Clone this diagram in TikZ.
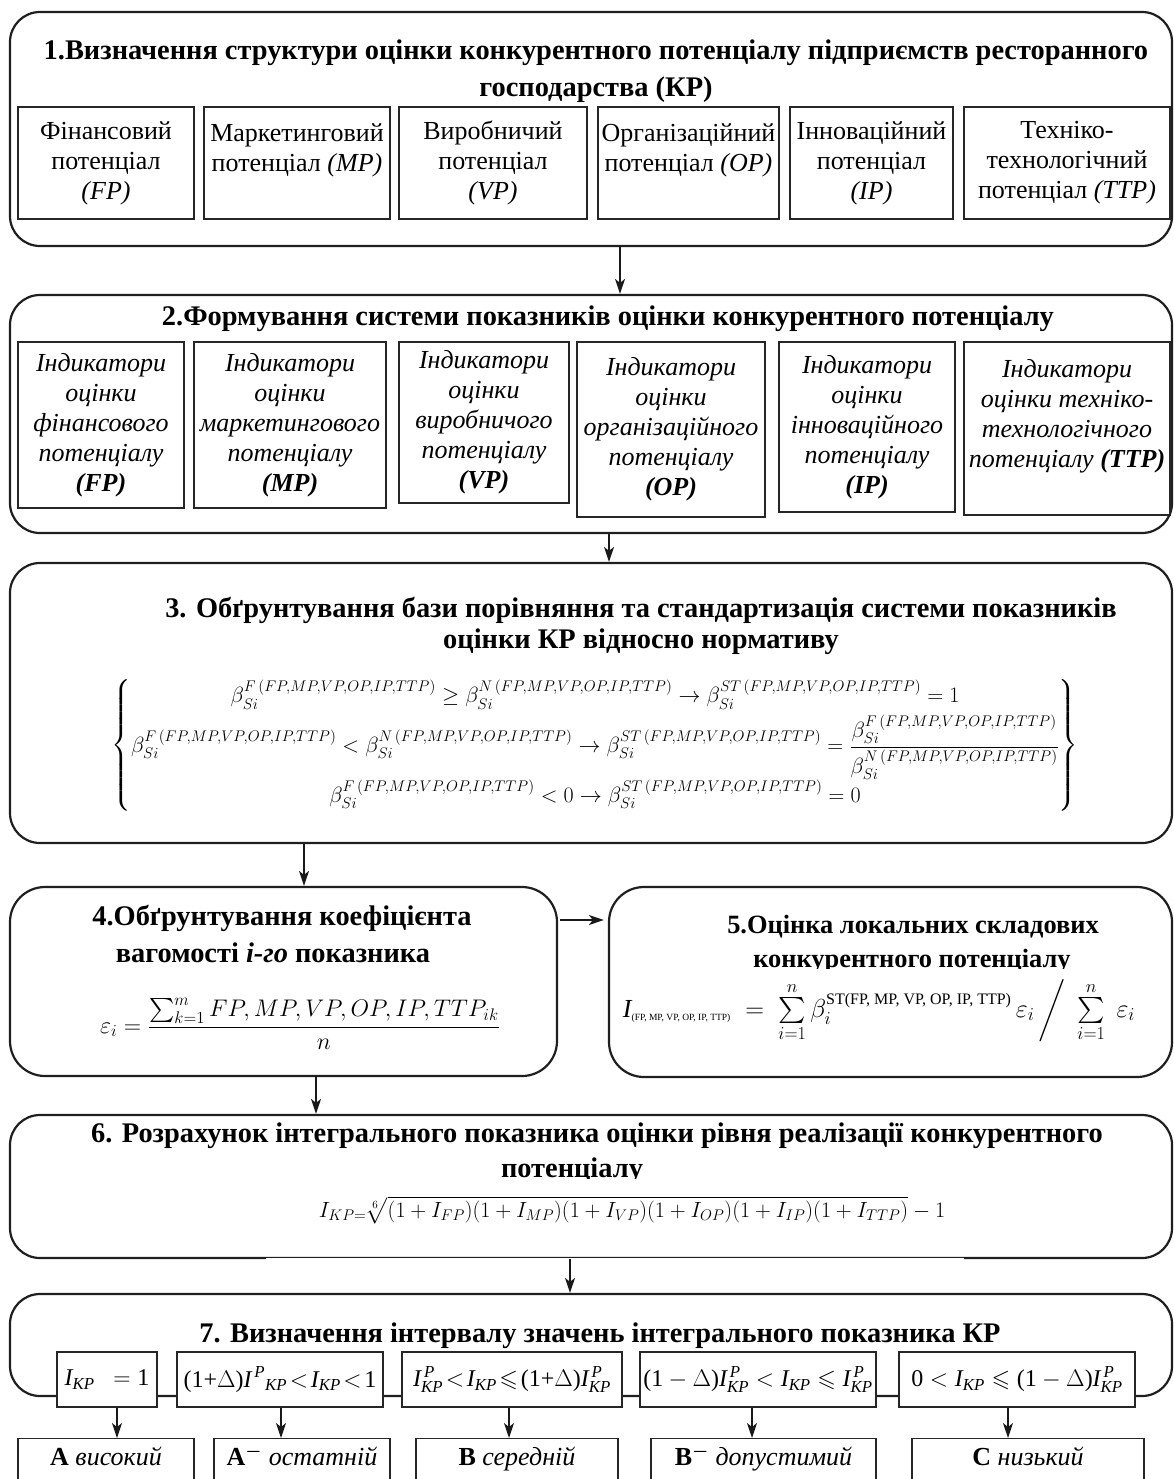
\RequirePackage{fix-cm}
\documentclass[tikz,border=0pt]{standalone}
\usepackage{amsmath,amssymb}
\usepackage{fontspec}
\setmainfont{Liberation Serif}
\usetikzlibrary{arrows.meta}
\newcommand{\bsi}[1]{\beta_{Si}^{#1\,(FP,MP,VP,OP,IP,TTP)}}
\newcommand{\myIK}{\textit{I}_{\textit{KP}}}
\newcommand{\myIPK}{\textit{I}^{\,\textit{P}}_{\textit{KP}}}
\tikzset{
  frame/.style={draw=black!88, line width=2.2pt, rounded corners=30pt, minimum width=1162pt},
  ibox/.style={draw=black!85, line width=1.2pt, fill=white, inner sep=0pt, align=center},
  bodyf/.style={font=\fontsize{26}{30}\selectfont},
  itf/.style={font=\itshape\fontsize{26}{30}\selectfont},
  arr/.style={draw=black!90, line width=1.5pt, -{Stealth[length=15pt,width=10pt,inset=4pt]}},
  ttl/.style={font=\bfseries\fontsize{28.4}{32}\selectfont, anchor=base, inner sep=0pt},
  ttls/.style={font=\bfseries\fontsize{26.4}{30}\selectfont, anchor=base, inner sep=0pt},
  mth/.style={inner sep=0pt},
  ifml/.style={ibox, font=\fontsize{24}{28}\selectfont, minimum height=55pt},
  rbox/.style={draw=black!85, line width=1.2pt, anchor=north, inner xsep=0pt, inner ysep=8pt,
     text height=19pt, text depth=25pt, font=\fontsize{26}{30}\selectfont},
}
\begin{document}
\begin{tikzpicture}[x=1pt,y=-1pt]
\useasboundingbox (0,0) rectangle (1174,1479);
% ---------- step 1
\node[frame, minimum height=234pt] (s1) at (591,129) {};
\node[ttl] (t1a) at (596,60) {1.Визначення структури оцінки конкурентного потенціалу підприємств ресторанного};
\node[ttl] (t1b) at (596,97) {господарства (КР)};
\node[ibox,bodyf,minimum width=176pt,minimum height=112pt] (p1) at (106,163) {Фінансовий\\потенціал\\\textit{(FP)}};
\node[ibox,bodyf,minimum width=186pt,minimum height=112pt] (p2) at (297,163) {Маркетинговий\\потенціал \textit{(MP)}\\\mbox{}};
\node[ibox,bodyf,minimum width=188pt,minimum height=112pt] (p3) at (493,163) {Виробничий\\потенціал\\\textit{(VP)}};
\node[ibox,bodyf,minimum width=181pt,minimum height=112pt] (p4) at (688.5,163) {Організаційний\\потенціал \textit{(OP)}\\\mbox{}};
\node[ibox,bodyf,minimum width=163pt,minimum height=112pt] (p5) at (871.5,163) {Інноваційний\\потенціал\\\textit{(IP)}};
\node[ibox,bodyf,minimum width=206pt,minimum height=112pt] (p6) at (1067,163) {Техніко-\\технологічний\\потенціал \textit{(TTP)}};
% ---------- step 2
\node[frame, minimum height=238pt] (s2) at (591,414) {};
\node[ttl] (t2) at (608,325) {2.Формування системи показників оцінки конкурентного потенціалу};
\node[ibox,itf,minimum width=166pt,minimum height=166pt] (q1) at (101,425) {Індикатори\\оцінки\\фінансового\\потенціалу\\\textbf{(FP)}};
\node[ibox,itf,minimum width=192pt,minimum height=166pt] (q2) at (290,425) {Індикатори\\оцінки\\маркетингового\\потенціалу\\\textbf{(MP)}};
\node[ibox,itf,minimum width=170pt,minimum height=161pt] (q3) at (484,422.5) {Індикатори\\оцінки\\виробничого\\потенціалу\\\textbf{(VP)}};
\node[ibox,itf,minimum width=188pt,minimum height=175pt] (q4) at (671,429.5) {Індикатори\\оцінки\\організаційного\\потенціалу\\\textbf{(OP)}};
\node[ibox,itf,minimum width=176pt,minimum height=170pt] (q5) at (867,427) {Індикатори\\оцінки\\інноваційного\\потенціалу\\\textbf{(IP)}};
\node[ibox,itf,minimum width=206pt,minimum height=173pt] (q6) at (1067,428.5) {Індикатори\\оцінки техніко-\\технологічного\\потенціалу \textbf{(TTP)}\\\mbox{}};
% ---------- step 3
\node[frame, minimum height=280pt] (s3) at (591,703) {};
\node[ttl] (t3a) at (641,617) {3. Обґрунтування бази порівняння та стандартизація системи показників};
\node[ttl] (t3b) at (641,648) {оцінки КР відносно нормативу};
\node[mth, font=\fontsize{22}{26}\selectfont] (e3) at (595,745) {$\left\{\begin{array}{@{}c@{}}
\bsi{F}\geq\bsi{N}\rightarrow\bsi{ST}=1\\[4pt]
\bsi{F}<\bsi{N}\rightarrow\bsi{ST}=\dfrac{\bsi{F}}{\bsi{N}}\\[6pt]
\bsi{F}<0\rightarrow\bsi{ST}=0
\end{array}\right\}$};
% ---------- step 4
\node[frame, rounded corners=35pt, minimum width=547pt, minimum height=189pt] (s4) at (283.5,981.5) {};
\node[ttl] (t4a) at (282,925) {4.Обґрунтування коефіцієнта};
\node[ttl] (t4b) at (273,962) {вагомості \textit{і-го} показника};
\node[mth, anchor=base, font=\fontsize{24}{28}\selectfont] (e4) at (300,1033) {$\varepsilon_i=\dfrac{\sum\nolimits_{k=1}^{m}FP,MP,VP,OP,IP,TTP_{ik}}{n}$};
% ---------- step 5
\node[frame, rounded corners=35pt, minimum width=563pt, minimum height=190pt] (s5) at (890.5,982) {};
\node[ttls] (t5a) at (913,933) {5.Оцінка локальних складових};
\node[ttls] (t5b) at (912,967) {конкурентного потенціалу};
\fill[white] (735,968.5) rectangle (1095,979);
\node[mth, anchor=base, font=\fontsize{26}{30}\selectfont] (e5) at (879,1017) {$\textit{I}_{\mbox{\fontsize{9.5}{10}\selectfont (FP, MP, VP, OP, IP, TTP)}}\;=\;\sum\limits_{i=1}^{n}\beta_i^{\mbox{\fontsize{16}{16}\selectfont ST(FP, MP, VP, OP, IP, TTP)}}\,\varepsilon_i\,\bigg/\;\sum\limits_{i=1}^{n}\;\varepsilon_i$};
% ---------- step 6
\node[frame, minimum height=143pt] (s6) at (591,1186.5) {};
\fill[white] (266,1258) rectangle (964,1260.5);
\node[ttl] (t6a) at (597,1142) {6. Розрахунок інтегрального показника оцінки рівня реалізації конкурентного};
\node[ttl] (t6b) at (572,1177) {потенціалу};
\fill[white] (470,1178.5) rectangle (680,1190);
\node[mth, anchor=base, font=\fontsize{22}{26}\selectfont] (e6) at (632,1217) {$I_{KP=}\sqrt[6]{(1+I_{FP})(1+I_{MP})(1+I_{VP})(1+I_{OP})(1+I_{IP})(1+I_{TTP})}-1$};
% ---------- step 7
\node[frame, minimum height=102pt] (s7) at (591,1345) {};
\node[ttl] (t7) at (600,1342) {7. Визначення інтервалу значень інтегрального показника КР};
\node[ifml, minimum width=100pt] (i1) at (107,1379.5) {$\myIK\ \ =\textrm{1}$};
\node[ifml, minimum width=206pt] (i2) at (280,1379.5) {$\textrm{(1+}\Delta\textrm{)}\textit{I}^{\,\textit{P}}{}_{\textit{KP}}\!<\!\myIK\!<\!\textrm{1}$};
\node[ifml, minimum width=220pt] (i3) at (512,1379.5) {$\myIPK\!<\!\myIK\!\leqslant\!\textrm{(1+}\Delta\textrm{)}\myIPK$};
\node[ifml, minimum width=236pt] (i4) at (758,1379.5) {$\textrm{(1}-\Delta\textrm{)}\myIPK<\myIK\leqslant\myIPK$};
\node[ifml, minimum width=236pt] (i5) at (1017,1379.5) {$\textrm{0}<\myIK\leqslant\textrm{(1}-\Delta\textrm{)}\myIPK$};
% results
\node[rbox, minimum width=176pt] (r1) at (106,1438) {\textbf{A} \textit{високий}};
\node[rbox, minimum width=176pt] (r2) at (302,1438) {\textbf{A}$^{\boldsymbol{-}}$ \textit{остатній}};
\node[rbox, minimum width=202pt] (r3) at (517,1438) {\textbf{B} \textit{середній}};
\node[rbox, minimum width=225pt] (r4) at (763.5,1438) {\textbf{B}$^{\boldsymbol{-}}$ \textit{допустимий}};
\node[rbox, minimum width=232pt] (r5) at (1028,1438) {\textbf{C} \textit{низький}};
% ---------- connectors
\coordinate (a12) at (620,0);
\coordinate (a23) at (609,0);
\coordinate (a34) at (304,0);
\coordinate (a46) at (316,0);
\coordinate (a67) at (570,0);
\coordinate (a45) at (0,920);
\draw[arr] (a12 |- s1.south) -- (a12 |- s2.north);
\draw[arr] (a23 |- s2.south) -- (a23 |- s3.north);
\draw[arr] (a34 |- s3.south) -- (a34 |- s4.north);
\draw[arr] ([xshift=2pt]a45 -| s4.east) -- ([xshift=-4pt]a45 -| s5.west);
\draw[arr] (a46 |- s4.south) -- (a46 |- s6.north);
\draw[arr] (a67 |- s6.south) -- (a67 |- s7.north);
\coordinate (d1) at (117,0);
\coordinate (d2) at (281,0);
\coordinate (d3) at (509,0);
\coordinate (d4) at (752,0);
\coordinate (d5) at (1008,0);
\draw[arr] (d1 |- i1.south) -- (d1 |- r1.north);
\draw[arr] (d2 |- i2.south) -- (d2 |- r2.north);
\draw[arr] (d3 |- i3.south) -- (d3 |- r3.north);
\draw[arr] (d4 |- i4.south) -- (d4 |- r4.north);
\draw[arr] (d5 |- i5.south) -- (d5 |- r5.north);
\end{tikzpicture}
\end{document}
